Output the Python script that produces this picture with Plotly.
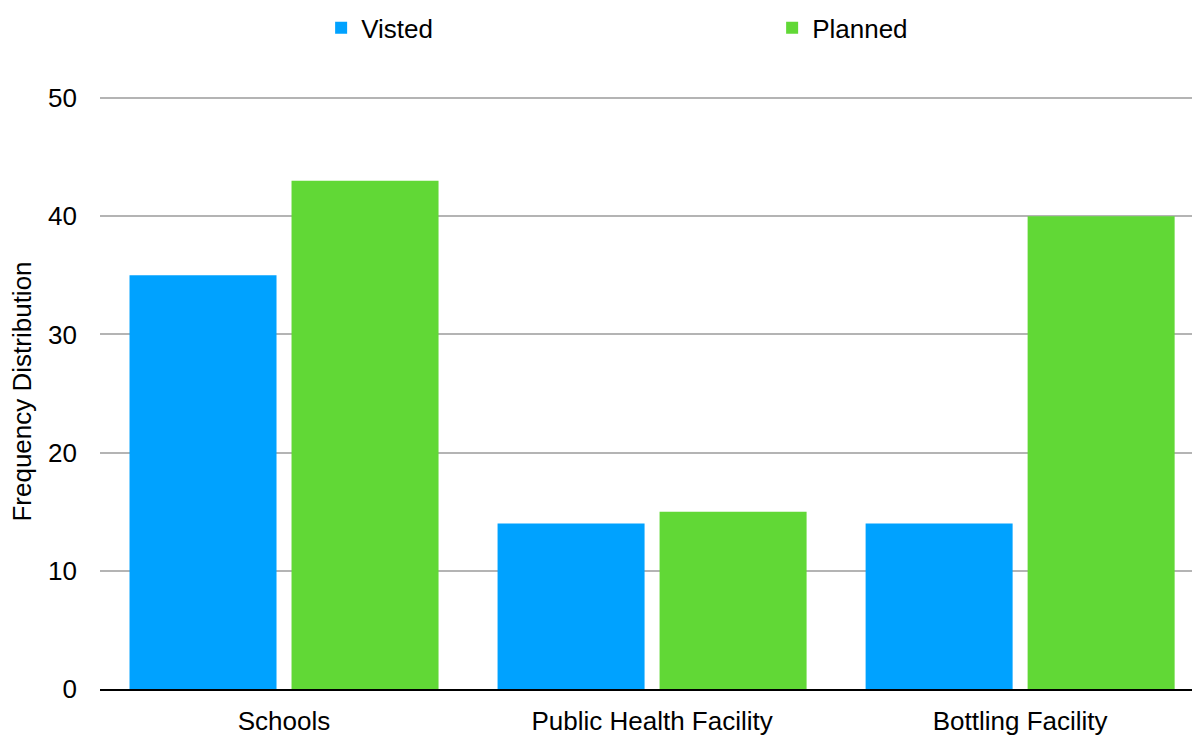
import plotly.graph_objects as go

categories = ["Schools", "Public Health Facility", "Bottling Facility"]
visited = [35, 14, 14]
planned = [43, 15, 40]
y_ticks = [0, 10, 20, 30, 40, 50]

FONT = "Liberation Sans, Arial, Helvetica, sans-serif"

fig = go.Figure()
fig.add_trace(go.Bar(name="Visted", x=categories, y=visited,
                     marker=dict(color="#00A2FF", line=dict(width=0))))
fig.add_trace(go.Bar(name="Planned", x=categories, y=planned,
                     marker=dict(color="#61D836", line=dict(width=0))))

fig.update_layout(
    width=1192, height=735,
    margin=dict(l=100, r=0, t=94, b=46, autoexpand=False),
    paper_bgcolor="white", plot_bgcolor="white",
    barmode="group", bargap=0.1196, bargroupgap=0.0926,
    font=dict(family=FONT, size=26, color="black"),
    showlegend=True,
    legend=dict(orientation="h", x=0.2025, xanchor="left", y=1.111, yanchor="middle",
                entrywidth=406, entrywidthmode="pixels",
                font=dict(size=26), traceorder="normal"),
    xaxis=dict(range=[-0.5, 2.467], showgrid=False, showline=True, linecolor="black",
               linewidth=2, ticks="", ticklabelstandoff=8, automargin=False,
               tickfont=dict(size=26)),
    yaxis=dict(range=[0, 50.34], tickvals=y_ticks, showgrid=True, gridcolor="#B4B4B4",
               gridwidth=2, zeroline=False, showline=False, ticks="",
               ticklabelstandoff=22, automargin=False, tickfont=dict(size=26),
               title=dict(text="Frequency Distribution", font=dict(size=26), standoff=8)),
)

fig.write_html("out.html")
